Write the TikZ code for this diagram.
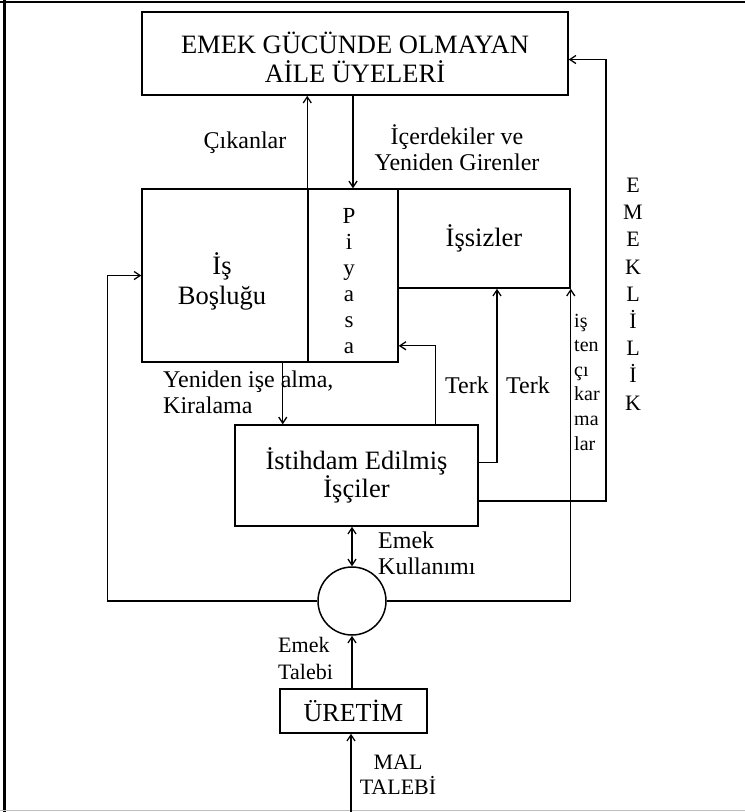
\documentclass[tikz,border=0pt]{standalone}
\usepackage{fontspec}
\setmainfont{Liberation Serif}
\usetikzlibrary{arrows.meta,calc}
\begin{document}
\begin{tikzpicture}[x=1pt,y=-1pt,
  box/.style={draw, line width=1.5pt, inner sep=0pt},
  tip/.tip={Straight Barb[length=6pt,width=8pt]},
  arr/.style={line width=1.3pt, -tip},
  darr/.style={line width=1.3pt, tip-tip},
  big/.style={font=\fontsize{26.5}{28}\selectfont, align=center, inner sep=0pt},
  lbl/.style={font=\fontsize{24}{26}\selectfont, align=center, inner sep=0pt},
  sml/.style={font=\fontsize{20}{24.6}\selectfont, align=left, inner sep=0pt},
  vert/.style={font=\fontsize{22}{27.2}\selectfont, align=center, inner sep=0pt}]
\useasboundingbox (0,0) rectangle (745,812);
% frame
\draw[line width=3pt] (4,0) -- (4,812);
\draw[line width=2pt] (0,2) -- (745,2);
\draw[line width=1pt, black!25] (0,810.5) -- (745,810.5);
% boxes
\node[box, minimum width=426pt, minimum height=83pt] (fam) at (355,53.5) {};
\node[big, font=\fontsize{26.5}{29}\selectfont] (famt) at (355,57) {EMEK GÜCÜNDE OLMAYAN\\AİLE ÜYELERİ};
\node[box, minimum width=166pt, minimum height=173pt] (isb) at (225,275.5) {};
\node[big, font=\fontsize{26.5}{30}\selectfont] (isbt) at (222,281) {İş\\Boşluğu};
\node[box, minimum width=90pt, minimum height=173pt] (piy) at (353,275.5) {};
\node[vert, font=\fontsize{23}{26}\selectfont] (piyt) at (349,281) {P\\i\\y\\a\\s\\a};
\node[box, minimum width=172pt, minimum height=99pt, big] (iss) at (484,238.5) {İşsizler};
\node[box, minimum width=243pt, minimum height=101pt, big] (emp) at (356.5,475.5) {İstihdam Edilmiş\\İşçiler};
\node[draw, circle, line width=1.5pt, minimum size=68pt, inner sep=0pt] (circ) at (352,601) {};
\node[box, minimum width=147pt, minimum height=44pt, big, font=\fontsize{26}{26}\selectfont] (ure) at (353.5,711) {ÜRETİM};
\coordinate (mal) at (351,812);
\coordinate (emk) at (606,501);
\coordinate (yk) at ([xshift=-26pt]isb.south east);
% connectors
\draw[arr] (piy.north west) -- (piy.north west |- fam.south);
\draw[arr] (piy.north |- fam.south) -- (piy.north);
\draw[arr] (circ.west) -| ([xshift=-34pt]isb.west) -- (isb.west);
\draw[arr] (circ.east) -| (iss.south east);
\draw[arr] (yk) -- (yk |- emp.north);
\draw[arr] ([xshift=-43pt]emp.north east) |- ([yshift=17pt]piy.south east);
\draw[arr] ([yshift=13pt]emp.east) -| ([xshift=13pt]iss.south);
\draw[arr] (emp.east |- emk) -- (emk) |- ([yshift=-6pt]fam.east);
\draw[darr] (circ.north |- emp.south) -- (circ.north);
\draw[arr] (circ.south |- ure.north) -- (circ.south);
\draw[arr] (mal) -- (mal |- ure.south);
% labels
\node[lbl] (cik) at (245,143) {Çıkanlar};
\node[lbl] (ice) at (457,148) {İçerdekiler ve\\Yeniden Girenler};
\node[lbl, align=left, anchor=west] (yen) at (163,392) {Yeniden işe alma,\\Kiralama};
\node[lbl] (terk1) at (467,385) {Terk};
\node[lbl] (terk2) at (528,385) {Terk};
\node[sml, anchor=west] (ist) at (574,382) {iş\\ten\\çı\\kar\\ma\\lar};
\node[vert] (emek) at (633,294) {E\\M\\E\\K\\L\\İ\\L\\İ\\K};
\node[lbl, align=left, anchor=west] (kul) at (378,553) {Emek\\Kullanımı};
\node[lbl, align=left, anchor=west, font=\fontsize{22}{27}\selectfont] (tal) at (278,658) {Emek\\Talebi};
\node[lbl, font=\fontsize{22}{25}\selectfont] (malt) at (398,775) {MAL\\TALEBİ};
\end{tikzpicture}
\end{document}
